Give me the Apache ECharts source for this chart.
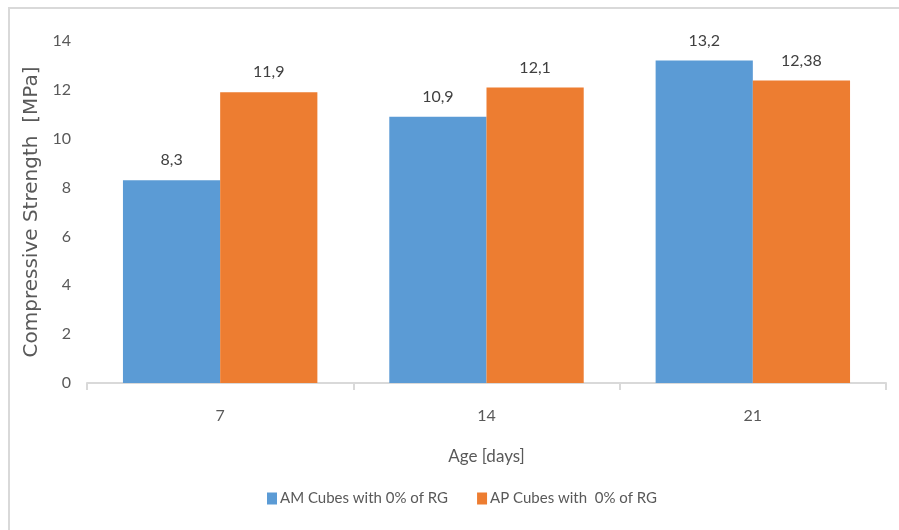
<!DOCTYPE html>
<html><head><meta charset="utf-8">
<script src="https://cdn.jsdelivr.net/npm/echarts@6/dist/echarts.min.js"></script>
<style>html,body{margin:0;padding:0;background:#fff}#c{width:899px;height:530px}</style>
</head><body><div id="c"></div>
<script>
const categories = ['7', '14', '21'];
const seriesNames = ['AM Cubes with 0% of RG', 'AP Cubes with  0% of RG'];
const amValues = [8.3, 10.9, 13.2];
const apValues = [11.9, 12.1, 12.38];
const yTicks = [0, 2, 4, 6, 8, 10, 12, 14];

const FONT = 'Lato, "Open Sans", sans-serif';
const TXT = '#595959';
const chart = echarts.init(document.getElementById('c'));
const lbl = {
  show: true, position: 'top', distance: 12, color: '#404040',
  fontFamily: FONT, fontSize: 16,
  formatter: p => String(p.value).replace('.', ',')
};
chart.setOption({
  animation: false,
  graphic: [{
    type: 'rect', shape: { x: 9, y: 8, width: 1200, height: 1200 },
    style: { fill: 'none', stroke: '#d9d9d9', lineWidth: 2 }, silent: true
  }],
  grid: { left: 87, right: 13, top: 41, bottom: 147 },
  legend: {
    bottom: 19, left: 262, itemWidth: 10, itemHeight: 12, itemGap: 29,
    icon: 'rect',
    textStyle: { color: TXT, fontFamily: FONT, fontSize: 15, padding: [0, 0, 0, -2] },
    data: seriesNames
  },
  xAxis: {
    type: 'category', data: categories,
    name: 'Age [days]', nameLocation: 'middle', nameGap: 65,
    nameTextStyle: { color: TXT, fontFamily: FONT, fontSize: 17 },
    axisLine: { lineStyle: { color: '#d9d9d9', width: 2 } },
    axisTick: { show: true, length: 7, lineStyle: { color: '#d9d9d9', width: 2 } },
    axisLabel: { color: TXT, fontFamily: FONT, fontSize: 16, margin: 25 }
  },
  yAxis: {
    type: 'value', min: 0, max: 14, interval: 2,
    name: 'Compressive Strength  [MPa]', nameLocation: 'middle', nameGap: 42,
    nameTextStyle: { color: TXT, fontFamily: '"DejaVu Sans", sans-serif', fontSize: 20 },
    axisLine: { show: false }, axisTick: { show: false },
    splitLine: { show: false },
    axisLabel: { color: TXT, fontFamily: FONT, fontSize: 16, margin: 16,
      formatter: v => yTicks.includes(v) ? String(v) : '' }
  },
  series: [
    { name: seriesNames[0], type: 'bar', data: amValues, barGap: '0%', barCategoryGap: '27%',
      itemStyle: { color: '#5B9BD5' }, label: lbl },
    { name: seriesNames[1], type: 'bar', data: apValues, barGap: '0%', barCategoryGap: '27%',
      itemStyle: { color: '#ED7D31' }, label: lbl }
  ]
});
</script></body></html>
